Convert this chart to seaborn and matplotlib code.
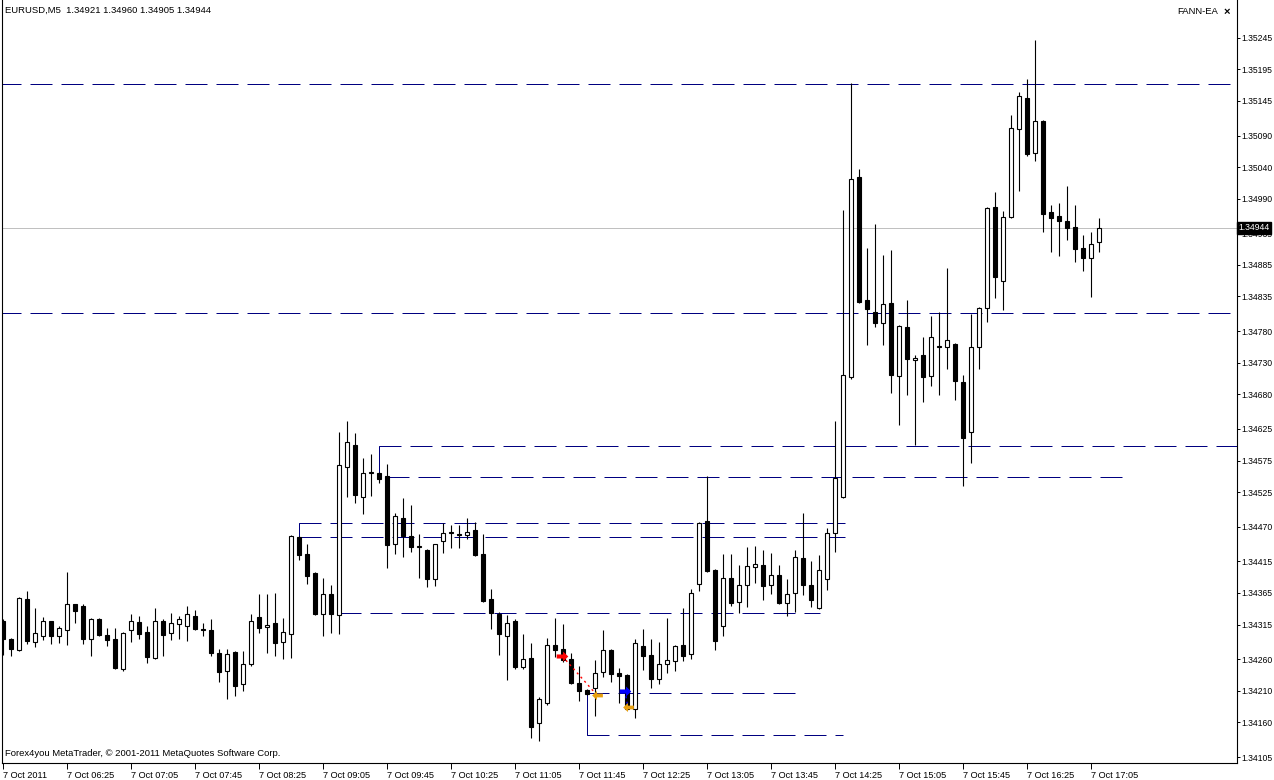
import numpy as np
import pandas as pd
import matplotlib
matplotlib.use("Agg")
import matplotlib.pyplot as plt
import seaborn as sns
from matplotlib.path import Path
from matplotlib import transforms

# ---------------- data ----------------
opens = [1.34320, 1.34292, 1.34274, 1.34355, 1.34287, 1.34297, 1.34320, 1.34297, 1.34306, 1.34347,
         1.34344, 1.34292, 1.34324, 1.34298, 1.34292, 1.34244, 1.34306, 1.34319, 1.34303, 1.34262,
         1.34320, 1.34301, 1.34316, 1.34313, 1.34328, 1.34308, 1.34306, 1.34270, 1.34241, 1.34271,
         1.34221, 1.34252, 1.34327, 1.34311, 1.34317, 1.34287, 1.34300, 1.34454, 1.34427, 1.34397,
         1.34332, 1.34363, 1.34330, 1.34565, 1.34599, 1.34517, 1.34555, 1.34555, 1.34550, 1.34442,
         1.34484, 1.34455, 1.34438, 1.34433, 1.34387, 1.34447, 1.34460, 1.34458, 1.34457, 1.34465,
         1.34427, 1.34355, 1.34332, 1.34297, 1.34320, 1.34247, 1.34262, 1.34159, 1.34190, 1.34282,
         1.34276, 1.34260, 1.34222, 1.34211, 1.34214, 1.34240, 1.34274, 1.34238, 1.34235, 1.34181,
         1.34281, 1.34267, 1.34228, 1.34252, 1.34257, 1.34282, 1.34268, 1.34379, 1.34479, 1.34401,
         1.34313, 1.34389, 1.34351, 1.34378, 1.34406, 1.34409, 1.34378, 1.34393, 1.34349, 1.34365,
         1.34420, 1.34378, 1.34341, 1.34387, 1.34460, 1.34517, 1.34707, 1.35024, 1.34829, 1.34810,
         1.34793, 1.34825, 1.34709, 1.34787, 1.34735, 1.34742, 1.34709, 1.34755, 1.34755, 1.34760,
         1.34699, 1.34620, 1.34755, 1.34817, 1.34977, 1.34860, 1.34961, 1.35101, 1.35150, 1.35063,
         1.35113, 1.34969, 1.34963, 1.34955, 1.34945, 1.34912, 1.34896, 1.34921]
highs = [1.34324, 1.34294, 1.34359, 1.34368, 1.34341, 1.34327, 1.34321, 1.34313, 1.34398, 1.34348,
         1.34347, 1.34325, 1.34325, 1.34309, 1.34309, 1.34303, 1.34332, 1.34328, 1.34313, 1.34341,
         1.34324, 1.34333, 1.34328, 1.34344, 1.34338, 1.34317, 1.34324, 1.34276, 1.34276, 1.34273,
         1.34273, 1.34332, 1.34363, 1.34363, 1.34365, 1.34325, 1.34457, 1.34456, 1.34442, 1.34398,
         1.34389, 1.34378, 1.34620, 1.34638, 1.34619, 1.34579, 1.34585, 1.34556, 1.34569, 1.34492,
         1.34515, 1.34504, 1.34458, 1.34434, 1.34443, 1.34476, 1.34473, 1.34473, 1.34484, 1.34477,
         1.34458, 1.34371, 1.34335, 1.34330, 1.34324, 1.34300, 1.34286, 1.34200, 1.34293, 1.34325,
         1.34316, 1.34270, 1.34249, 1.34213, 1.34259, 1.34306, 1.34276, 1.34246, 1.34236, 1.34292,
         1.34308, 1.34292, 1.34287, 1.34325, 1.34282, 1.34341, 1.34371, 1.34477, 1.34550, 1.34403,
         1.34427, 1.34427, 1.34409, 1.34438, 1.34439, 1.34433, 1.34428, 1.34409, 1.34387, 1.34433,
         1.34492, 1.34416, 1.34425, 1.34468, 1.34638, 1.34972, 1.35173, 1.35037, 1.34912, 1.34950,
         1.34901, 1.34909, 1.34790, 1.34829, 1.34742, 1.34771, 1.34804, 1.34810, 1.34880, 1.34761,
         1.34710, 1.34807, 1.34818, 1.34977, 1.35001, 1.34971, 1.35123, 1.35159, 1.35180, 1.35242,
         1.35115, 1.34980, 1.34983, 1.35010, 1.34980, 1.34933, 1.34937, 1.34960]
lows = [1.34267, 1.34265, 1.34273, 1.34284, 1.34279, 1.34290, 1.34284, 1.34286, 1.34282, 1.34317,
        1.34284, 1.34265, 1.34297, 1.34281, 1.34244, 1.34241, 1.34287, 1.34292, 1.34254, 1.34260,
        1.34265, 1.34290, 1.34292, 1.34289, 1.34306, 1.34297, 1.34265, 1.34224, 1.34197, 1.34202,
        1.34209, 1.34250, 1.34301, 1.34270, 1.34265, 1.34260, 1.34262, 1.34417, 1.34379, 1.34330,
        1.34297, 1.34301, 1.34300, 1.34517, 1.34508, 1.34490, 1.34519, 1.34539, 1.34404, 1.34427,
        1.34422, 1.34430, 1.34389, 1.34374, 1.34376, 1.34428, 1.34436, 1.34436, 1.34451, 1.34424,
        1.34350, 1.34308, 1.34267, 1.34227, 1.34245, 1.34245, 1.34135, 1.34130, 1.34188, 1.34263,
        1.34255, 1.34221, 1.34194, 1.34203, 1.34170, 1.34232, 1.34224, 1.34190, 1.34179, 1.34167,
        1.34243, 1.34214, 1.34221, 1.34238, 1.34241, 1.34257, 1.34260, 1.34368, 1.34398, 1.34274,
        1.34297, 1.34344, 1.34333, 1.34343, 1.34381, 1.34354, 1.34363, 1.34347, 1.34328, 1.34335,
        1.34362, 1.34343, 1.34340, 1.34370, 1.34430, 1.34515, 1.34705, 1.34824, 1.34758, 1.34787,
        1.34758, 1.34682, 1.34631, 1.34679, 1.34599, 1.34668, 1.34693, 1.34679, 1.34720, 1.34671,
        1.34534, 1.34571, 1.34720, 1.34795, 1.34833, 1.34814, 1.34960, 1.35002, 1.35058, 1.35050,
        1.34937, 1.34906, 1.34899, 1.34925, 1.34890, 1.34876, 1.34834, 1.34905]
closes = [1.34292, 1.34276, 1.34357, 1.34289, 1.34301, 1.34320, 1.34297, 1.34309, 1.34347, 1.34336,
          1.34292, 1.34324, 1.34298, 1.34290, 1.34246, 1.34301, 1.34320, 1.34300, 1.34263, 1.34320,
          1.34298, 1.34317, 1.34324, 1.34332, 1.34308, 1.34306, 1.34270, 1.34240, 1.34268, 1.34217,
          1.34252, 1.34320, 1.34309, 1.34314, 1.34286, 1.34303, 1.34455, 1.34425, 1.34392, 1.34332,
          1.34363, 1.34332, 1.34568, 1.34604, 1.34520, 1.34555, 1.34556, 1.34545, 1.34441, 1.34487,
          1.34455, 1.34438, 1.34440, 1.34387, 1.34442, 1.34460, 1.34461, 1.34457, 1.34462, 1.34425,
          1.34352, 1.34333, 1.34300, 1.34317, 1.34247, 1.34260, 1.34152, 1.34197, 1.34282, 1.34274,
          1.34259, 1.34222, 1.34209, 1.34205, 1.34238, 1.34274, 1.34236, 1.34233, 1.34181, 1.34286,
          1.34265, 1.34228, 1.34252, 1.34259, 1.34281, 1.34265, 1.34365, 1.34476, 1.34400, 1.34289,
          1.34389, 1.34349, 1.34378, 1.34408, 1.34411, 1.34376, 1.34393, 1.34349, 1.34363, 1.34422,
          1.34378, 1.34354, 1.34401, 1.34460, 1.34547, 1.34710, 1.35021, 1.34826, 1.34815, 1.34793,
          1.34823, 1.34710, 1.34788, 1.34736, 1.34737, 1.34707, 1.34771, 1.34756, 1.34766, 1.34701,
          1.34611, 1.34755, 1.34817, 1.34975, 1.34866, 1.34961, 1.35102, 1.35153, 1.35061, 1.35113,
          1.34966, 1.34960, 1.34955, 1.34944, 1.34910, 1.34896, 1.34918, 1.34944]

time_labels = ["7 Oct 2011", "7 Oct 06:25", "7 Oct 07:05", "7 Oct 07:45", "7 Oct 08:25",
               "7 Oct 09:05", "7 Oct 09:45", "7 Oct 10:25", "7 Oct 11:05", "7 Oct 11:45",
               "7 Oct 12:25", "7 Oct 13:05", "7 Oct 13:45", "7 Oct 14:25", "7 Oct 15:05",
               "7 Oct 15:45", "7 Oct 16:25", "7 Oct 17:05"]
price_labels = ["1.35245", "1.35195", "1.35145", "1.35090", "1.35040", "1.34990", "1.34935",
                "1.34885", "1.34835", "1.34780", "1.34730", "1.34680", "1.34625", "1.34575",
                "1.34525", "1.34470", "1.34415", "1.34365", "1.34315", "1.34260", "1.34210",
                "1.34160", "1.34105"]

# EA level lines: price, start bar, end bar
level_prices = [1.35172, 1.34809, 1.34598, 1.34549, 1.34476, 1.34454, 1.34333, 1.34206, 1.34140]
level_start = [-1, -1, 47, 48, 37, 37, 42, 73, 73]
level_end = [155, 155, 155, 140.25, 105.25, 105.25, 102.1, 99.25, 105]
# vertical connectors (bar, price from, price to)
conn_bar = [37, 47, 73]
conn_from = [1.34476, 1.34598, 1.34206]
conn_to = [1.34454, 1.34555, 1.34140]

current_price = 1.34944

# trade arrows
trade_bar = [69.9, 74.25, 77.75, 78.1]
trade_price = [1.34265, 1.34203, 1.34210, 1.34184]
trade_kind = ["sell", "close", "buy", "close"]

# ---------------- style ----------------
sns.set_theme(style="white")
plt.rcParams['font.family'] = ['Liberation Sans', 'DejaVu Sans']
plt.rcParams['text.color'] = 'black'
plt.rcParams['xtick.color'] = 'black'
plt.rcParams['ytick.color'] = 'black'

W, H = 1274, 780
fig = plt.figure(figsize=(W / 100, H / 100), dpi=100, facecolor='white')
ax = fig.add_axes([2 / W, 17 / H, 1235 / W, 763 / H])
ax.set_facecolor('white')

df = pd.DataFrame({"bar": np.arange(len(opens)), "open": opens, "high": highs,
                   "low": lows, "close": closes})
df["up"] = df["close"] >= df["open"]
df["bottom"] = df[["open", "close"]].min(axis=1)
df["height"] = (df["close"] - df["open"]).abs().clip(lower=0.000004)

xmin, xmax = -0.125, 154.25
ymin, ymax = 1.340955, 1.35305
LW = 0.72  # one pixel

# current price line (grey)
sns.lineplot(x=[xmin, xmax], y=[current_price, current_price], ax=ax,
             color='#C0C0C0', linewidth=LW, zorder=1)

# level lines
navy = '#000080'
for p, s, e in zip(level_prices, level_start, level_end):
    ax.plot([s, e], [p, p], color=navy, linewidth=LW, linestyle=(0, (22, 9)),
            zorder=2, snap=True)
for b, p1, p2 in zip(conn_bar, conn_from, conn_to):
    ax.plot([b, b], [p2, p1], color=navy, linewidth=LW, zorder=2, snap=True)

# wicks
ax.vlines(df["bar"], df["low"], df["high"], colors='black', linewidth=0.8, zorder=3)
# bodies
ax.bar(df["bar"], df["height"], bottom=df["bottom"], width=0.5,
       color=np.where(df["up"], 'white', 'black'), edgecolor='black',
       linewidth=0.8, zorder=4)

# trade arrows
right_arrow = Path([(-1, -0.35), (0.1, -0.35), (0.1, -0.85), (1, 0), (0.1, 0.85),
                    (0.1, 0.35), (-1, 0.35), (-1, -0.35)],
                   [Path.MOVETO] + [Path.LINETO] * 6 + [Path.CLOSEPOLY])
left_arrow = Path([(-x, y) for x, y in right_arrow.vertices], right_arrow.codes)
ax.plot(trade_bar[0:2], trade_price[0:2], color='red', linewidth=1.0,
        linestyle=(0, (1.5, 2.5)), zorder=5)
ax.plot(trade_bar[2:4], trade_price[2:4], color='blue', linewidth=1.0,
        linestyle=(0, (1.5, 2.5)), zorder=5)
for b, p, k in zip(trade_bar, trade_price, trade_kind):
    if k == "sell":
        ax.scatter([b], [p], marker=right_arrow, s=70, color='red', zorder=6, linewidths=0)
    elif k == "buy":
        ax.scatter([b], [p], marker=right_arrow, s=70, color='blue', zorder=6, linewidths=0)
    else:
        ax.scatter([b], [p], marker=left_arrow, s=60, color='#E8A010', zorder=6, linewidths=0)

ax.set_xlim(xmin, xmax)
ax.set_ylim(ymin, ymax)

# axes / ticks
for side in ['left', 'right', 'bottom']:
    ax.spines[side].set_visible(True)
    ax.spines[side].set_color('black')
    ax.spines[side].set_linewidth(0.8)
ax.spines['top'].set_visible(False)

ax.yaxis.tick_right()
ax.set_yticks([float(v) for v in price_labels])
ax.set_yticklabels(price_labels)
ax.set_xticks(np.arange(len(time_labels)) * 8)
ax.set_xticklabels(time_labels, ha='left')
ax.tick_params(axis='y', which='both', right=True, left=False, direction='out',
               length=2.5, width=0.7, pad=1.0, labelsize=6.2)
ax.tick_params(axis='x', which='both', bottom=True, direction='out',
               length=4, width=0.7, pad=1.5, labelsize=6.6)
ax.set_xlabel("")
ax.set_ylabel("")
ax.grid(False)

# current price tag
trans = transforms.blended_transform_factory(ax.transAxes, ax.transData)
ax.text(1.0012, current_price, "1.34944", transform=trans, color='white', fontsize=6.2,
        va='center', ha='left', clip_on=False, zorder=20,
        bbox=dict(boxstyle='square,pad=0.2', facecolor='black', edgecolor='black'))

# texts
fig.text(5 / W, 1 - 10 / H, "EURUSD,M5  1.34921 1.34960 1.34905 1.34944", fontsize=6.8,
         va='center', ha='left')
fig.text(1218 / W, 1 - 12 / H, "FANN-EA", fontsize=6.8, va='center', ha='right')
fig.text(1224 / W, 1 - 12 / H, "×", fontsize=8, fontweight='bold', va='center', ha='left')
fig.text(5 / W, 1 - 754 / H, "Forex4you MetaTrader, © 2001-2011 MetaQuotes Software Corp.",
         fontsize=6.8, va='center', ha='left')

fig.savefig("out.png", dpi=100, facecolor='white')
